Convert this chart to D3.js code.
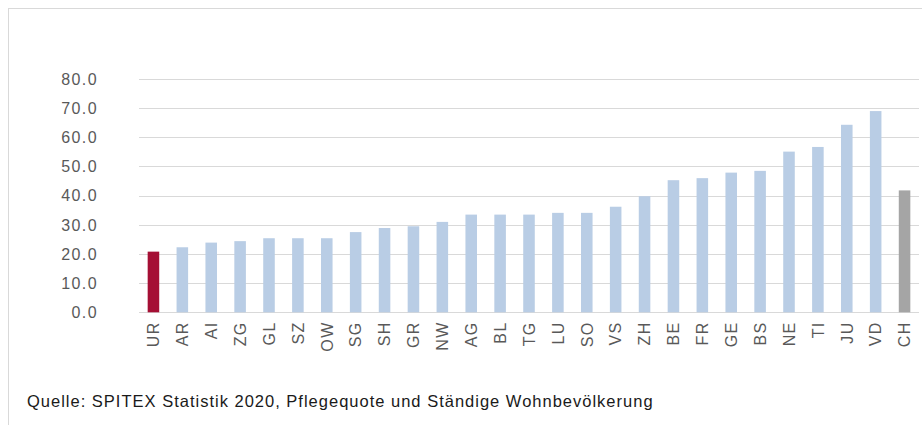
<!DOCTYPE html>
<html>
<head>
<meta charset="utf-8">
<script src="https://cdn.jsdelivr.net/npm/d3@7"></script>
<style>
  html, body { margin: 0; padding: 0; background: #fff; }
  svg { display: block; }
</style>
</head>
<body>
<svg id="chart" width="922" height="425"></svg>
<script>
const categories = ["UR","AR","AI","ZG","GL","SZ","OW","SG","SH","GR","NW","AG","BL","TG","LU","SO","VS","ZH","BE","FR","GE","BS","NE","TI","JU","VD","CH"];
const values = [20.8,22.3,23.9,24.4,25.4,25.4,25.4,27.5,28.9,29.5,31.0,33.5,33.5,33.5,34.1,34.1,36.2,39.8,45.3,46.0,47.9,48.5,55.1,56.7,64.3,69.0,41.8];
const highlight = { "UR": "#A50F34", "CH": "#A5A5A5" };
const defaultColor = "#B9CDE5";
const yTicks = [0,10,20,30,40,50,60,70,80];
const sourceText = "Quelle: SPITEX Statistik 2020, Pflegequote und Ständige Wohnbevölkerung";

const svg = d3.select("#chart");
const W = 922, H = 425;

// frame
svg.append("rect")
  .attr("x", 8.5).attr("y", 8.5)
  .attr("width", W + 20).attr("height", H + 20)
  .attr("fill", "none").attr("stroke", "#D9D9D9").attr("stroke-width", 1);

const plot = { left: 139, right: 919, top: 79, bottom: 312.3 };

const x = d3.scaleBand()
  .domain(categories)
  .range([plot.left, plot.right])
  .paddingInner(0.6)
  .paddingOuter(0.3);

const y = d3.scaleLinear()
  .domain([0, 80])
  .range([plot.bottom, plot.top]);

// gridlines
svg.append("g")
  .selectAll("line")
  .data(yTicks)
  .join("line")
  .attr("x1", plot.left).attr("x2", plot.right)
  .attr("y1", d => Math.round(y(d)) + 0.5)
  .attr("y2", d => Math.round(y(d)) + 0.5)
  .attr("stroke", "#D9D9D9").attr("stroke-width", 1);

// y labels
svg.append("g")
  .selectAll("text")
  .data(yTicks)
  .join("text")
  .attr("x", 98)
  .attr("y", d => y(d))
  .attr("dy", "0.36em")
  .attr("text-anchor", "end")
  .attr("font-family", "Liberation Sans, Arial, sans-serif")
  .attr("font-size", 16)
  .attr("letter-spacing", "1.4px")
  .attr("fill", "#595959")
  .text(d => d3.format(".1f")(d));

// bars
svg.append("g")
  .selectAll("rect")
  .data(categories.map((c, i) => ({ c, v: values[i] })))
  .join("rect")
  .attr("x", d => x(d.c))
  .attr("width", x.bandwidth())
  .attr("y", d => y(d.v))
  .attr("height", d => y(0) - y(d.v))
  .attr("fill", d => highlight[d.c] || defaultColor);

// x labels (rotated)
svg.append("g")
  .selectAll("text")
  .data(categories)
  .join("text")
  .attr("transform", d => `translate(${x(d) + x.bandwidth() / 2},${plot.bottom + 9}) rotate(-90)`)
  .attr("text-anchor", "end")
  .attr("dy", "0.36em")
  .attr("font-family", "Liberation Sans, Arial, sans-serif")
  .attr("font-size", 16)
  .attr("letter-spacing", "1.4px")
  .attr("fill", "#595959")
  .text(d => d);

// source
svg.append("text")
  .attr("x", 27)
  .attr("y", 407)
  .attr("font-family", "Liberation Sans, Arial, sans-serif")
  .attr("font-size", 16.5)
  .attr("letter-spacing", "1px")
  .attr("fill", "#1a1a1a")
  .text(sourceText);
</script>
</body>
</html>
